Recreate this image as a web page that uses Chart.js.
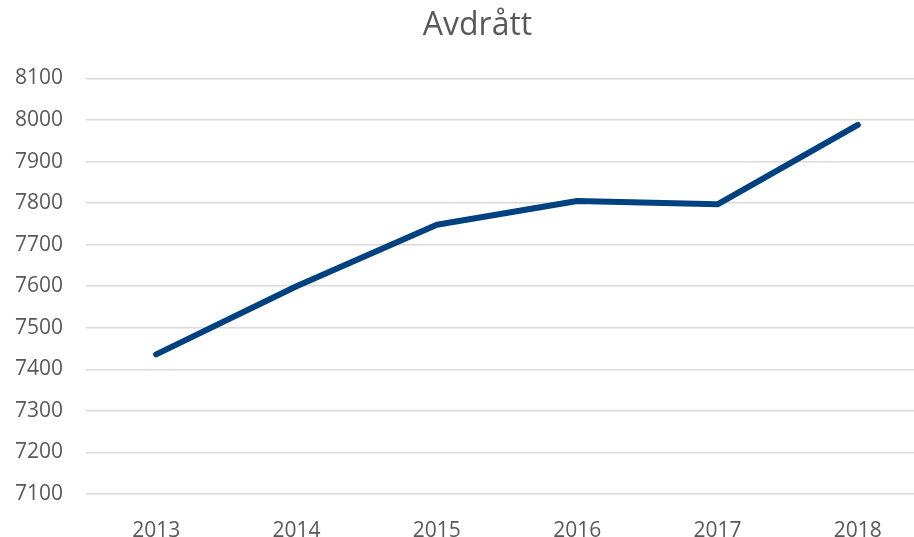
<!DOCTYPE html>
<html>
<head>
<meta charset="utf-8">
<script src="https://cdn.jsdelivr.net/npm/chart.js@4"></script>
<style>
  html, body { margin: 0; padding: 0; background: #fff; overflow: hidden; }
  #wrap { width: 955px; height: 537px; }
</style>
</head>
<body>
<div id="wrap"><canvas id="chart"></canvas></div>
<script>
// data
const years = ['2013', '2014', '2015', '2016', '2017', '2018'];
const avdratt = [7436, 7600, 7748, 7805, 7797, 7988];
const yMin = 7100;
const yMax = 8100;
const yStep = 100;

const grey = '#595959';

// centre the title over the full canvas, not just the padded box
const titleCentre = {
    id: 'titleCentre',
    afterLayout(chart) {
        const t = chart.titleBlock;
        if (t) {
            t.left = 0;
            t.right = chart.width;
            t.width = chart.width;
        }
    }
};

new Chart(document.getElementById('chart'), {
    type: 'line',
    data: {
        labels: years,
        datasets: [{
            label: 'Avdrått',
            data: avdratt,
            borderColor: '#00427f',
            borderWidth: 6,
            borderCapStyle: 'round',
            borderJoinStyle: 'round',
            pointRadius: 0,
            tension: 0,
            fill: false
        }]
    },
    options: {
        responsive: true,
        maintainAspectRatio: false,
        animation: false,
        layout: { padding: { top: 7, right: 27, left: 0, bottom: 0 } },
        plugins: {
            legend: { display: false },
            tooltip: { enabled: false },
            title: {
                display: true,
                text: 'Avdrått',
                color: grey,
                font: { family: 'Open Sans', size: 32, weight: 'normal' },
                padding: { top: 0, bottom: 33 }
            }
        },
        scales: {
            x: {
                offset: true,
                afterFit: (scale) => { scale.height = 43; },
                grid: { display: false },
                border: { display: false },
                ticks: {
                    color: grey,
                    padding: 16,
                    font: { family: 'Open Sans', size: 21 }
                }
            },
            y: {
                min: yMin,
                max: yMax,
                afterFit: (scale) => { scale.width = 86; },
                grid: { color: '#d9d9d9', lineWidth: 1.5, drawTicks: false },
                border: { display: false },
                ticks: {
                    stepSize: yStep,
                    color: grey,
                    padding: 23,
                    callback: (v) => String(v),
                    font: { family: 'Open Sans', size: 21 }
                }
            }
        }
    },
    plugins: [titleCentre]
});
</script>
</body>
</html>
